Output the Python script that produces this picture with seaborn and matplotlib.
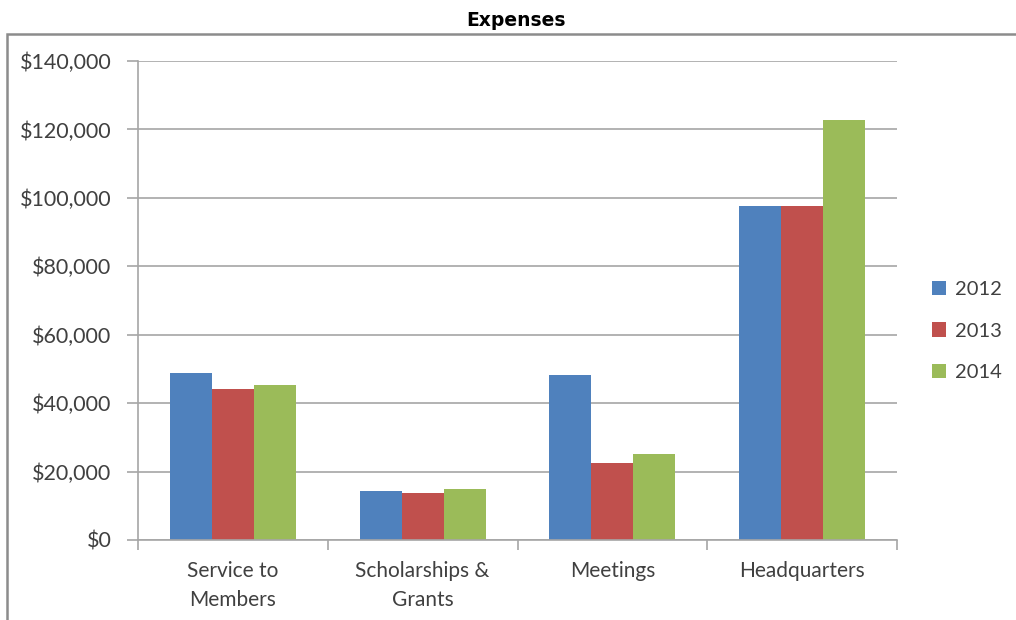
import matplotlib
matplotlib.use("Agg")
import matplotlib.pyplot as plt
import matplotlib.ticker as mticker
from matplotlib.patches import Rectangle, Patch
import pandas as pd
import seaborn as sns

# values
categories = ["Service to\nMembers", "Scholarships &\nGrants", "Meetings", "Headquarters"]
years = ["2012", "2013", "2014"]
expenses_2012 = [48700, 14300, 48200, 97600]
expenses_2013 = [44000, 13600, 22500, 97600]
expenses_2014 = [45400, 15000, 25100, 122800]
yticks = [0, 20000, 40000, 60000, 80000, 100000, 120000, 140000]

colors = ["#4F81BD", "#C0504D", "#9BBB59"]
text_color = "#404040"
grid_color = "#A6A6A6"

df = pd.DataFrame({
    "category": categories * 3,
    "year": [y for y in years for _ in categories],
    "amount": expenses_2012 + expenses_2013 + expenses_2014,
})

sns.set_style("white")
plt.rcParams["font.family"] = ["Lato", "DejaVu Sans"]

fig = plt.figure(figsize=(10.16, 6.2), dpi=100)
ax = fig.add_axes([138 / 1016, 80 / 620, 759 / 1016, 479 / 620])

sns.barplot(data=df, x="category", y="amount", hue="year", palette=colors,
            width=0.665, saturation=1, ax=ax, legend=False, edgecolor="none")

ax.set_xlim(-0.5, 3.5)
ax.set_ylim(0, 140000)
ax.set_yticks(yticks)
ax.yaxis.set_major_formatter(mticker.FuncFormatter(lambda v, p: f"${v:,.0f}"))
ax.set_xlabel("")
ax.set_ylabel("")

ax.set_axisbelow(True)
ax.yaxis.grid(True, color=grid_color, linewidth=1.2)
ax.xaxis.grid(False)

for side in ["top", "right"]:
    ax.spines[side].set_visible(False)
for side in ["left", "bottom"]:
    ax.spines[side].set_color(grid_color)
    ax.spines[side].set_linewidth(1.2)

ax.tick_params(axis="y", direction="out", length=8, width=1.2, color=grid_color,
               pad=11, labelsize=15.5, labelcolor=text_color, left=True)
ax.tick_params(axis="x", which="major", length=0, pad=15, labelsize=15, labelcolor=text_color)
ax.set_xticks([-0.5, 0.5, 1.5, 2.5, 3.5], minor=True)
ax.tick_params(axis="x", which="minor", direction="out", length=7, width=1.2,
               color=grid_color, bottom=True)
for lbl in ax.get_xticklabels():
    lbl.set_linespacing(1.6)
    lbl.set_verticalalignment("top")

handles = [Patch(facecolor=c, edgecolor="none") for c in colors]
fig.legend(handles, years, loc="center left", bbox_to_anchor=(914 / 1016, 1 - 331 / 620),
           frameon=False, fontsize=14.5, labelcolor=text_color, handlelength=0.7,
           handleheight=0.7, handletextpad=0.45, labelspacing=1.2)

# outer chart frame (cropped on the right and bottom)
fig.patches.append(Rectangle((7 / 1016, -0.05), 1.1, (620 - 34) / 620 + 0.05,
                             transform=fig.transFigure, fill=False,
                             edgecolor="#8C8C8C", linewidth=1.8))

fig.text(0.508, 1 - 21 / 620, "Expenses", ha="center", va="center",
         fontsize=13.5, fontweight="bold", family="DejaVu Sans", color="black")

fig.savefig("out.png", dpi=100)
